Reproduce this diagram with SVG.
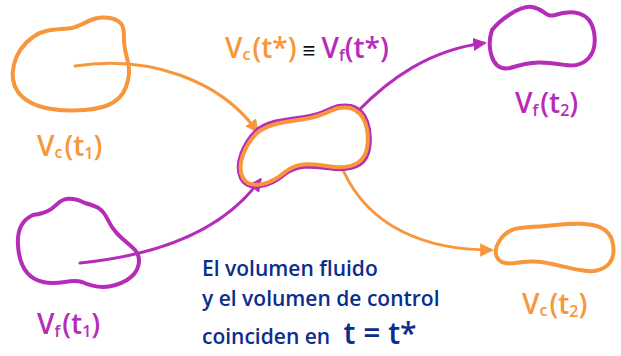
<svg xmlns="http://www.w3.org/2000/svg" width="621" height="356" viewBox="0 0 621 356">
<style>
.o{fill:none;stroke:#F7963A;stroke-width:4;stroke-linecap:round;stroke-linejoin:round}
.p{fill:none;stroke:#B62CB9;stroke-width:4;stroke-linecap:round;stroke-linejoin:round}
.ol{fill:none;stroke:#F7963A;stroke-width:3;stroke-linecap:round}
.pl{fill:none;stroke:#B62CB9;stroke-width:3;stroke-linecap:round}
text{font-family:"Open Sans","Liberation Sans",sans-serif;font-weight:600}
.to{fill:#F7963A}
.tp{fill:#B62CB9}
.tb{fill:#0B2E8E}
.lbl{font-size:28px}
.sub{font-size:16px}
</style>
<defs>
<marker id="ao" viewBox="0 0 10 10" refX="8" refY="5" markerWidth="4.5" markerHeight="4.5" orient="auto" markerUnits="strokeWidth"><path d="M0,0 L10,5 L0,10 z" fill="#F7963A"/></marker>
<marker id="ap" viewBox="0 0 10 10" refX="8" refY="5" markerWidth="4.5" markerHeight="4.5" orient="auto" markerUnits="strokeWidth"><path d="M0,0 L10,5 L0,10 z" fill="#B62CB9"/></marker>
</defs>
<g id="connectors">
<path class="ol" d="M75,66 C150,55 220,80 257,131" marker-end="url(#ao)"/>
<path class="pl" d="M80,263 C160,255 224,230 260,180" marker-end="url(#ap)"/>
<path class="pl" d="M357,112 C390,78 430,50 484,43" marker-end="url(#ap)"/>
<path class="ol" d="M343,170 C370,230 430,250 491,250" marker-end="url(#ao)"/>
</g>
<g id="vc-t1">
<path class="o" d="M33,37 C45,28 60,30 72,28 C85,25 92,15 110,18 C125,21 124,30 124,40 C124,55 132,65 128,80 C124,100 110,108 85,110 C55,112 30,108 18,92 C8,78 12,52 33,37 Z"/>
<text class="to lbl" x="37" y="156">V<tspan class="sub" dy="2">c</tspan><tspan dy="-2" dx="2">(t</tspan><tspan class="sub" dy="3">1</tspan><tspan dy="-3">)</tspan></text>
</g>
<g id="vf-t1">
<path class="p" d="M63,200 C55,203 55,212 33,215 C22,220 17,230 18,245 C19,262 25,278 43,282 C60,286 70,278 82,282 C95,288 110,290 127,280 C140,272 142,258 135,250 C125,240 115,235 108,220 C103,210 100,207 85,203 C75,198 68,198 63,200 Z"/>
<text class="tp lbl" x="37" y="334">V<tspan class="sub" dy="3">f</tspan><tspan dy="-3" dx="2">(t</tspan><tspan class="sub" dy="3">1</tspan><tspan dy="-3">)</tspan></text>
</g>
<g id="v-tstar">
<path class="p" d="M256,131 C269,119 290,120 310,116 C330,112 334,103 351,106 C367,110 372,130 369,149 C366,167 351,170 335,169 C315,167 300,163 285,174 C270,187 248,192 241,178 C234,164 244,143 256,131 Z"/>
<path class="o" d="M257,133 C270,122 290,122 310,118 C330,114 335,105 350,108 C365,112 370,130 367,148 C364,165 350,168 335,167 C315,165 300,160 285,172 C270,185 250,190 243,178 C236,165 245,145 257,133 Z"/>
<text class="lbl" x="225" y="58"><tspan class="to">V</tspan><tspan class="to sub" dy="2">c</tspan><tspan class="to" dy="-2" dx="2">(t*)</tspan><tspan fill="#111" font-size="22" dx="6">≡</tspan><tspan class="tp" dx="6">V</tspan><tspan class="tp sub" dy="3">f</tspan><tspan class="tp" dy="-3">(t*)</tspan></text>
</g>
<g id="vf-t2">
<path class="p" d="M492,30 C500,20 520,5 532,7 C545,9 545,18 555,15 C570,10 590,10 594,32 C598,55 585,68 565,65 C545,62 535,60 510,68 C490,72 487,45 492,30 Z"/>
<text class="tp lbl" x="515" y="113">V<tspan class="sub" dy="3">f</tspan><tspan dy="-3" dx="2">(t</tspan><tspan class="sub" dy="3">2</tspan><tspan dy="-3">)</tspan></text>
</g>
<g id="vc-t2">
<path class="o" d="M500,240 C510,225 525,228 545,226 C570,224 605,218 612,240 C618,262 605,275 580,270 C555,266 540,258 515,263 C495,266 492,252 500,240 Z"/>
<text class="to lbl" x="522" y="314">V<tspan class="sub" dy="2">c</tspan><tspan dy="-2" dx="2">(t</tspan><tspan class="sub" dy="3">2</tspan><tspan dy="-3">)</tspan></text>
</g>
<g id="note">
<text class="tb" font-size="21" x="202" y="276">El volumen fluido</text>
<text class="tb" font-size="21" x="202" y="306">y el volumen de control</text>
<text class="tb" font-size="21" x="202" y="344">coinciden en <tspan font-size="30" dx="8">t = t*</tspan></text>
</g>
</svg>
